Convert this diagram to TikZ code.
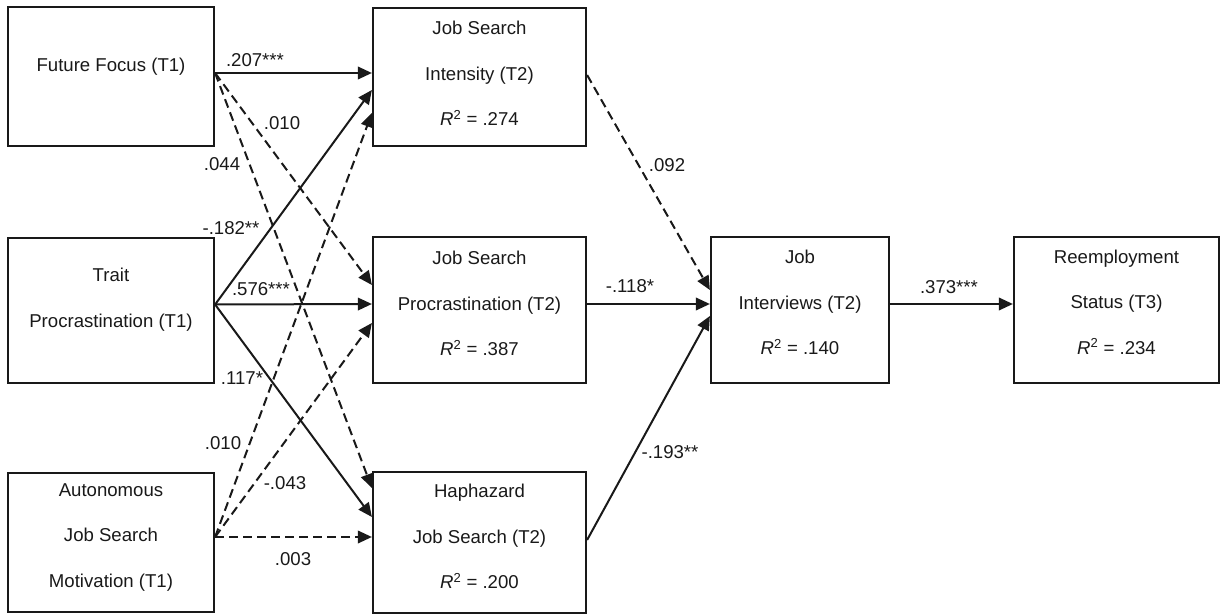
\documentclass[tikz,border=0pt]{standalone}
\usepackage{fontspec}
\setmainfont{Liberation Sans}
\usetikzlibrary{arrows.meta,calc}
\tikzset{
  box/.style={draw=black!90, line width=2.2pt, inner sep=0pt, rectangle},
  txt/.style={align=center, inner sep=0pt, font=\fontsize{18.6}{45.5}\selectfont, text=black!90},
  lbl/.style={inner sep=0pt, font=\fontsize{18.6}{22}\selectfont, text=black!90},
  path/.style={line width=2pt, draw=black!90, -{Triangle[length=14pt,width=12.5pt]}},
  dpath/.style={path, dash pattern=on 9pt off 5pt}
}
\newcommand{\Rsq}{\textit{R}\textsuperscript{2}}
\begin{document}
\begin{tikzpicture}[x=1pt,y=-1pt]
\useasboundingbox (0,0) rectangle (1224,615);
% boxes
\node[box, minimum width=206pt, minimum height=139pt] (ff) at (111,76.5) {};
\node[box, minimum width=206pt, minimum height=145pt] (tp) at (111,310.5) {};
\node[box, minimum width=206pt, minimum height=139pt] (am) at (111,542.5) {};
\node[box, minimum width=213pt, minimum height=138pt] (ji) at (479.5,77) {};
\node[box, minimum width=213pt, minimum height=146pt] (jp) at (479.5,310) {};
\node[box, minimum width=213pt, minimum height=141pt] (hj) at (479.5,542.5) {};
\node[box, minimum width=178pt, minimum height=146pt] (iv) at (800,310) {};
\node[box, minimum width=205pt, minimum height=146pt] (re) at (1116.5,310) {};
% texts
\node[txt] (fft) at (111,67) {Future Focus (T1)};
\node[txt] (tpt) at (111,299.5) {Trait\\Procrastination (T1)};
\node[txt] (amt) at (111,537.5) {Autonomous\\Job Search\\Motivation (T1)};
\node[txt] (jit) at (479.5,73.5) {Job Search\\Intensity (T2)\\\Rsq{} = .274};
\node[txt] (jpt) at (479.5,303.5) {Job Search\\Procrastination (T2)\\\Rsq{} = .387};
\node[txt] (hjt) at (479.5,536.5) {Haphazard\\Job Search (T2)\\\Rsq{} = .200};
\node[txt] (ivt) at (800,302.5) {Job\\Interviews (T2)\\\Rsq{} = .140};
\node[txt] (ret) at (1116.5,302) {Reemployment\\Status (T3)\\\Rsq{} = .234};
% connectors from Future Focus
\draw[path]  ([yshift=3.5pt]ff.east) -- ([yshift=4pt]ji.west);
\draw[dpath] ([yshift=3.5pt]ff.east) -- ([yshift=25pt]jp.west);
\draw[dpath] ([yshift=3.5pt]ff.east) -- ([yshift=54.5pt]hj.west);
% from Trait Procrastination
\draw[path] ([yshift=6pt]tp.east) -- ([yshift=-13pt]ji.west);
\draw[path] ([yshift=6pt]tp.east) -- ([yshift=6pt]jp.west);
\draw[path] ([yshift=6pt]tp.east) -- ([yshift=25.5pt]hj.west);
% from Autonomous motivation
\draw[dpath] ([yshift=5.5pt]am.east) -- ([yshift=-36pt]ji.west);
\draw[dpath] ([yshift=5.5pt]am.east) -- ([yshift=-13pt]jp.west);
\draw[dpath] ([yshift=5.5pt]am.east) -- ([yshift=5.5pt]hj.west);
% to interviews
\draw[dpath] ([yshift=2pt]ji.east) -- ([yshift=20pt]iv.west);
\draw[path]  ([yshift=6pt]jp.east) -- ([yshift=6pt]iv.west);
\draw[path]  ([yshift=2.5pt]hj.east) -- ([yshift=-6pt]iv.west);
\draw[path]  ([yshift=6pt]iv.east) -- ([yshift=6pt]re.west);
% labels
\node[lbl] (l1) at (255,60) {.207***};
\node[lbl] (l2) at (282,123) {.010};
\node[lbl] (l3) at (222,164) {.044};
\node[lbl] (l4) at (231,228) {-.182**};
\node[lbl] (l5) at (261,289) {.576***};
\node[lbl] (l6) at (242,378) {.117*};
\node[lbl] (l7) at (223,443) {.010};
\node[lbl] (l8) at (285,483) {-.043};
\node[lbl] (l9) at (293,559) {.003};
\node[lbl] (l10) at (667,165) {.092};
\node[lbl] (l11) at (630,286) {-.118*};
\node[lbl] (l12) at (670,452) {-.193**};
\node[lbl] (l13) at (949,287) {.373***};
\end{tikzpicture}
\end{document}
